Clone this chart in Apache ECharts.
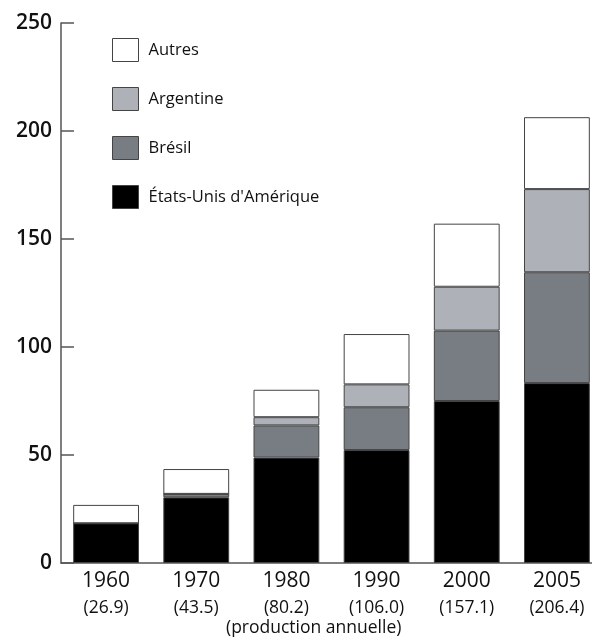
<!DOCTYPE html>
<html>
<head>
<meta charset="utf-8">
<script src="https://cdn.jsdelivr.net/npm/echarts@6/dist/echarts.min.js"></script>
<style>
    html, body { margin: 0; padding: 0; background: #fff; }
    #chart { width: 592px; height: 639px; }
</style>
</head>
<body>
<div id="chart"></div>
<script>
// années et production annuelle totale
const years = ['1960', '1970', '1980', '1990', '2000', '2005']
const totals = ['26.9', '43.5', '80.2', '106.0', '157.1', '206.4']
const yTicks = [0, 50, 100, 150, 200, 250]

// valeurs par pays
const etatsUnis = [18.4, 30.4, 48.8, 52.3, 75.0, 83.3]
const bresil = [0, 1.6, 14.9, 19.8, 32.6, 51.3]
const argentine = [0, 0, 3.8, 10.6, 20.3, 38.5]
const autres = [8.5, 11.5, 12.7, 23.3, 29.2, 33.3]

const legendOrder = ['Autres', 'Argentine', 'Brésil', "États-Unis d'Amérique"]
const font = '"Open Sans", "Noto Sans", sans-serif'

function makeSeries (name, data, color) {
    return {
        name: name,
        type: 'bar',
        stack: 'total',
        data: data,
        barCategoryGap: '27%',
        itemStyle: {
            color: color,
            borderColor: '#444',
            borderWidth: 1
        }
    }
}

const chart = echarts.init(document.getElementById('chart'), null, {renderer: 'canvas'})
chart.setOption({
    animation: false,
    backgroundColor: '#fff',
    grid: {
        left: 61,
        right: -10,
        top: 23,
        bottom: 76,
        containLabel: false,
        outerBoundsMode: 'none'
    },
    legend: {
        data: legendOrder,
        orient: 'vertical',
        left: 112,
        top: 38,
        padding: 0,
        itemWidth: 26,
        itemHeight: 23,
        itemGap: 25,
        icon: 'rect',
        textStyle: {
            fontFamily: font,
            fontSize: 16.5,
            color: '#111',
            padding: [0, 0, 0, 5]
        },
        itemStyle: {
            borderColor: '#444',
            borderWidth: 1
        }
    },
    xAxis: {
        type: 'category',
        data: years,
        axisLine: { lineStyle: { color: '#555', width: 1.5 } },
        axisTick: { inside: true, length: 10, interval: 0, lineStyle: { color: '#555', width: 1.5 } },
        axisLabel: {
            margin: 4,
            formatter: function (v, i) {
                return '{y|' + v + '}\n{t|(' + totals[i] + ')}'
            },
            rich: {
                y: { fontFamily: font, fontSize: 21, color: '#111', lineHeight: 28 },
                t: { fontFamily: font, fontSize: 17.5, color: '#111', lineHeight: 26 }
            }
        }
    },
    yAxis: {
        type: 'value',
        min: yTicks[0],
        max: yTicks[yTicks.length - 1],
        interval: 50,
        splitLine: { show: false },
        axisLine: { show: true, lineStyle: { color: '#555', width: 1.5 } },
        axisTick: { show: true, inside: true, length: 13, lineStyle: { color: '#555', width: 1.5 } },
        axisLabel: {
            margin: 9,
            fontFamily: font,
            fontSize: 21,
            fontWeight: 600,
            color: '#111'
        }
    },
    graphic: [{
        type: 'text',
        left: 226,
        top: 619,
        style: {
            text: '(production annuelle)',
            fontFamily: font,
            fontSize: 17.5,
            fill: '#111'
        }
    }],
    series: [
        makeSeries("États-Unis d'Amérique", etatsUnis, '#000'),
        makeSeries('Brésil', bresil, '#787c83'),
        makeSeries('Argentine', argentine, '#aeb2b8'),
        makeSeries('Autres', autres, '#fff')
    ]
})
</script>
</body>
</html>
